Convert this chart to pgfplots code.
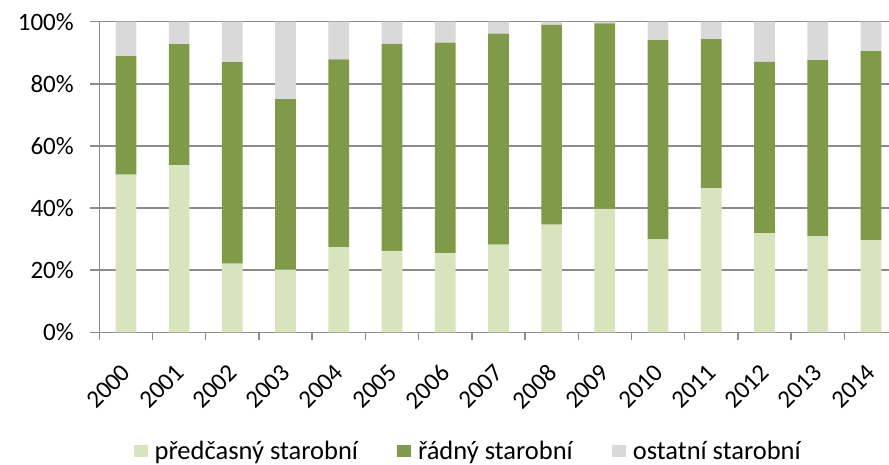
\documentclass[border=0pt]{standalone}
\usepackage{pgfplots}
\pgfplotsset{compat=1.18}
\usepackage{pgfplotstable}
\usepackage{fontspec}
\setmainfont{Carlito}
\definecolor{cLight}{HTML}{D7E4BD}
\definecolor{cGreen}{HTML}{7F9A48}
\definecolor{cGray}{HTML}{D9D9D9}
\definecolor{cAxis}{HTML}{8C8C8C}
\pgfplotstableread{
x pred radny ostatni
0  50.8 38.1 11.1
1  53.8 39.0 7.2
2  22.1 64.9 13.0
3  20.2 54.9 24.9
4  27.4 60.5 12.1
5  26.2 66.7 7.1
6  25.5 67.8 6.7
7  28.2 68.0 3.8
8  34.7 64.3 1.0
9  39.7 59.8 0.5
10 29.9 64.2 5.9
11 46.4 48.0 5.6
12 31.9 55.2 12.9
13 30.9 56.7 12.4
14 29.7 60.8 9.5
}\datatable
\begin{document}
\begin{tikzpicture}
\begin{axis}[
  name=ax,
  scale only axis,
  width=789.7bp, height=310.6bp,
  xmin=-0.5, xmax=14.34,
  ymin=0, ymax=100,
  ybar stacked,
  bar width=20.7bp,
  axis x line*=bottom,
  axis y line*=left,
  axis line style={draw=cAxis, line width=1.4bp},
  xtick={0,...,14},
  xticklabels={2000,2001,2002,2003,2004,2005,2006,2007,2008,2009,2010,2011,2012,2013,2014},
  major x tick style={draw=none},
  minor xtick={-0.5,0.5,...,13.5},
  minor x tick style={draw=cAxis, line width=1.4bp},
  minor tick length=8bp,
  xticklabel style={font=\fontsize{25bp}{30bp}\selectfont, inner sep=0pt, xshift=0.5bp, yshift=-27bp, rotate=45, anchor=east},
  ytick={0,20,...,100},
  yticklabels={0\%,20\%,40\%,60\%,80\%,100\%},
  y tick style={draw=cAxis, line width=1.4bp},
  major tick length=9bp,
  tick align=outside,
  ymajorgrids,
  grid style={draw=cAxis, line width=1.4bp},
  yticklabel style={font=\fontsize{25bp}{30bp}\selectfont, xshift=-13bp},
  /pgf/number format/assume math mode=true,
  legend columns=3,
  legend style={draw=none, fill=none, at={(axis description cs:0.4659,-0.382)}, anchor=center,
    font=\fontsize{26.5bp}{31bp}\selectfont,
    nodes={inner sep=0pt},
    column sep=7bp,
    /tikz/every even column/.append style={column sep=39bp}},
  legend image code/.code={\fill[#1, draw=none] (0bp,-6.5bp) rectangle (14bp,5.5bp);},
  clip=false,
]
\addplot[fill=cLight, draw=none] table[x=x, y=pred] {\datatable};
\addplot[fill=cGreen, draw=none] table[x=x, y=radny] {\datatable};
\addplot[fill=cGray, draw=none] table[x=x, y=ostatni] {\datatable};
\legend{předčasný starobní, řádný starobní, ostatní starobní}
\end{axis}
\pgfresetboundingbox
\path ([xshift=-99.3bp,yshift=-132.7bp]ax.south west) rectangle ([yshift=21.7bp]ax.north east);
\end{tikzpicture}
\end{document}
